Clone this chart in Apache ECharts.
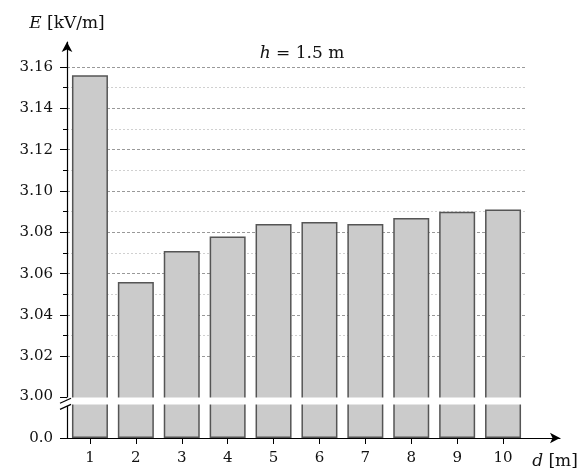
<!DOCTYPE html>
<html>
<head>
<meta charset="utf-8">
<script src="https://cdn.jsdelivr.net/npm/echarts@6/dist/echarts.min.js"></script>
<style>html,body{margin:0;padding:0;background:#fff}#c{width:582px;height:470px}</style>
</head>
<body>
<div id="c"></div>
<script>
const categories = ['1','2','3','4','5','6','7','8','9','10'];
const values = [3.156, 3.056, 3.071, 3.078, 3.084, 3.085, 3.084, 3.087, 3.090, 3.091];
const yMin = 0, yMax = 3.16, yInterval = 0.02;
const breakStart = 0.0165, breakEnd = 3.0;

const font = 'DejaVu Serif';
const chart = echarts.init(document.getElementById('c'));
chart.setOption({
  animation: false,
  textStyle: { fontFamily: font },
  title: {
    text: '{i|h} = 1.5 m',
    left: 297, top: 40, textAlign: 'center',
    textStyle: { fontFamily: font, fontSize: 17, fontWeight: 'normal', color: '#111',
      rich: { i: { fontFamily: font, fontStyle: 'italic', fontSize: 17, color: '#111' } } }
  },
  grid: [
    { left: 67, right: 56, top: 67, bottom: 32 },
    { left: 67, right: 22, top: 42, bottom: 32 }
  ],
  xAxis: [
    { type: 'category', gridIndex: 0, data: categories, boundaryGap: true,
      axisLine: { show: false },
      axisTick: { show: true, alignWithLabel: true, length: 6, lineStyle: { color: '#000' } },
      axisLabel: { fontFamily: font, fontSize: 15, color: '#111', margin: 13 },
      splitLine: { show: false } },
    { type: 'value', gridIndex: 1, min: 0, max: 1,
      axisLine: { show: true, symbol: ['none', 'arrow'], symbolSize: [8, 10], lineStyle: { color: '#000', width: 1.2 } },
      axisTick: { show: false }, axisLabel: { show: false }, splitLine: { show: false },
      name: '{i|d} [m]', nameLocation: 'end', nameGap: -5,
      nameTextStyle: { fontFamily: font, fontSize: 17, color: '#111', align: 'center', verticalAlign: 'top', padding: [15, 0, 0, 0],
        rich: { i: { fontFamily: font, fontStyle: 'italic', fontSize: 17, color: '#111' } } } }
  ],
  yAxis: [
    { type: 'value', gridIndex: 0, min: yMin, max: yMax, interval: yInterval,
      breaks: [{ start: breakStart, end: breakEnd, gap: 0.003 }],
      breakArea: { show: true, expandOnClick: false, zigzagAmplitude: 0, zigzagZ: 100,
        itemStyle: { color: '#fff', borderColor: '#fff', borderWidth: 0, opacity: 1 } },
      axisLine: { show: false },
      axisTick: { show: true, length: 7, lineStyle: { color: '#000' } },
      minorTick: { show: true, splitNumber: 2, length: 4, lineStyle: { color: '#000' } },
      splitLine: { show: true, lineStyle: { type: [3, 2], color: '#999', width: 1 } },
      minorSplitLine: { show: true, lineStyle: { type: [2, 2], color: '#d0d0d0', width: 1 } },
      axisLabel: { fontFamily: font, fontSize: 15, color: '#111', margin: 14,
        formatter: function (v) {
          if (Math.abs(v) < 1e-9) return '0.0';
          if (v < 2.99) return '';
          return v.toFixed(2);
        } } },
    { type: 'value', gridIndex: 1, min: 0, max: 1,
      axisLine: { show: true, symbol: ['none', 'arrow'], symbolSize: [8, 10], lineStyle: { color: '#000', width: 1.2 } },
      axisTick: { show: false }, axisLabel: { show: false }, splitLine: { show: false },
      name: '{i|E} [kV/m]', nameLocation: 'end', nameGap: 10,
      nameTextStyle: { fontFamily: font, fontSize: 17, color: '#111',
        rich: { i: { fontFamily: font, fontStyle: 'italic', fontSize: 17, color: '#111' } } } }
  ],
  series: [{
    type: 'bar', xAxisIndex: 0, yAxisIndex: 0, data: values, barWidth: 36,
    itemStyle: { color: '#cbcbcb', borderColor: '#555', borderWidth: 1.5 }
  }]
});

// axis-break mark "//" placed through the library's own scale
const ax = chart.convertToPixel({ xAxisIndex: 1 }, 0);
const yTop = chart.convertToPixel({ yAxisIndex: 0 }, breakEnd);
const yBot = chart.convertToPixel({ yAxisIndex: 0 }, breakStart);
const x1 = ax - 7, x2 = ax + 4, d = 5;
chart.setOption({
  graphic: [
    { type: 'polygon', z: 200, silent: true,
      shape: { points: [[x1, yTop + d + 0.5], [x2, yTop + 0.5], [x2, yBot + 0.5], [x1, yBot + d + 0.5]] },
      style: { fill: '#fff' } },
    { type: 'line', z: 201, silent: true,
      shape: { x1: x1, y1: yTop + d + 0.5, x2: x2, y2: yTop + 0.5 },
      style: { stroke: '#000', lineWidth: 1.2 } },
    { type: 'line', z: 201, silent: true,
      shape: { x1: x1, y1: yBot + d + 0.5, x2: x2, y2: yBot + 0.5 },
      style: { stroke: '#000', lineWidth: 1.2 } }
  ]
});
</script>
</body>
</html>
